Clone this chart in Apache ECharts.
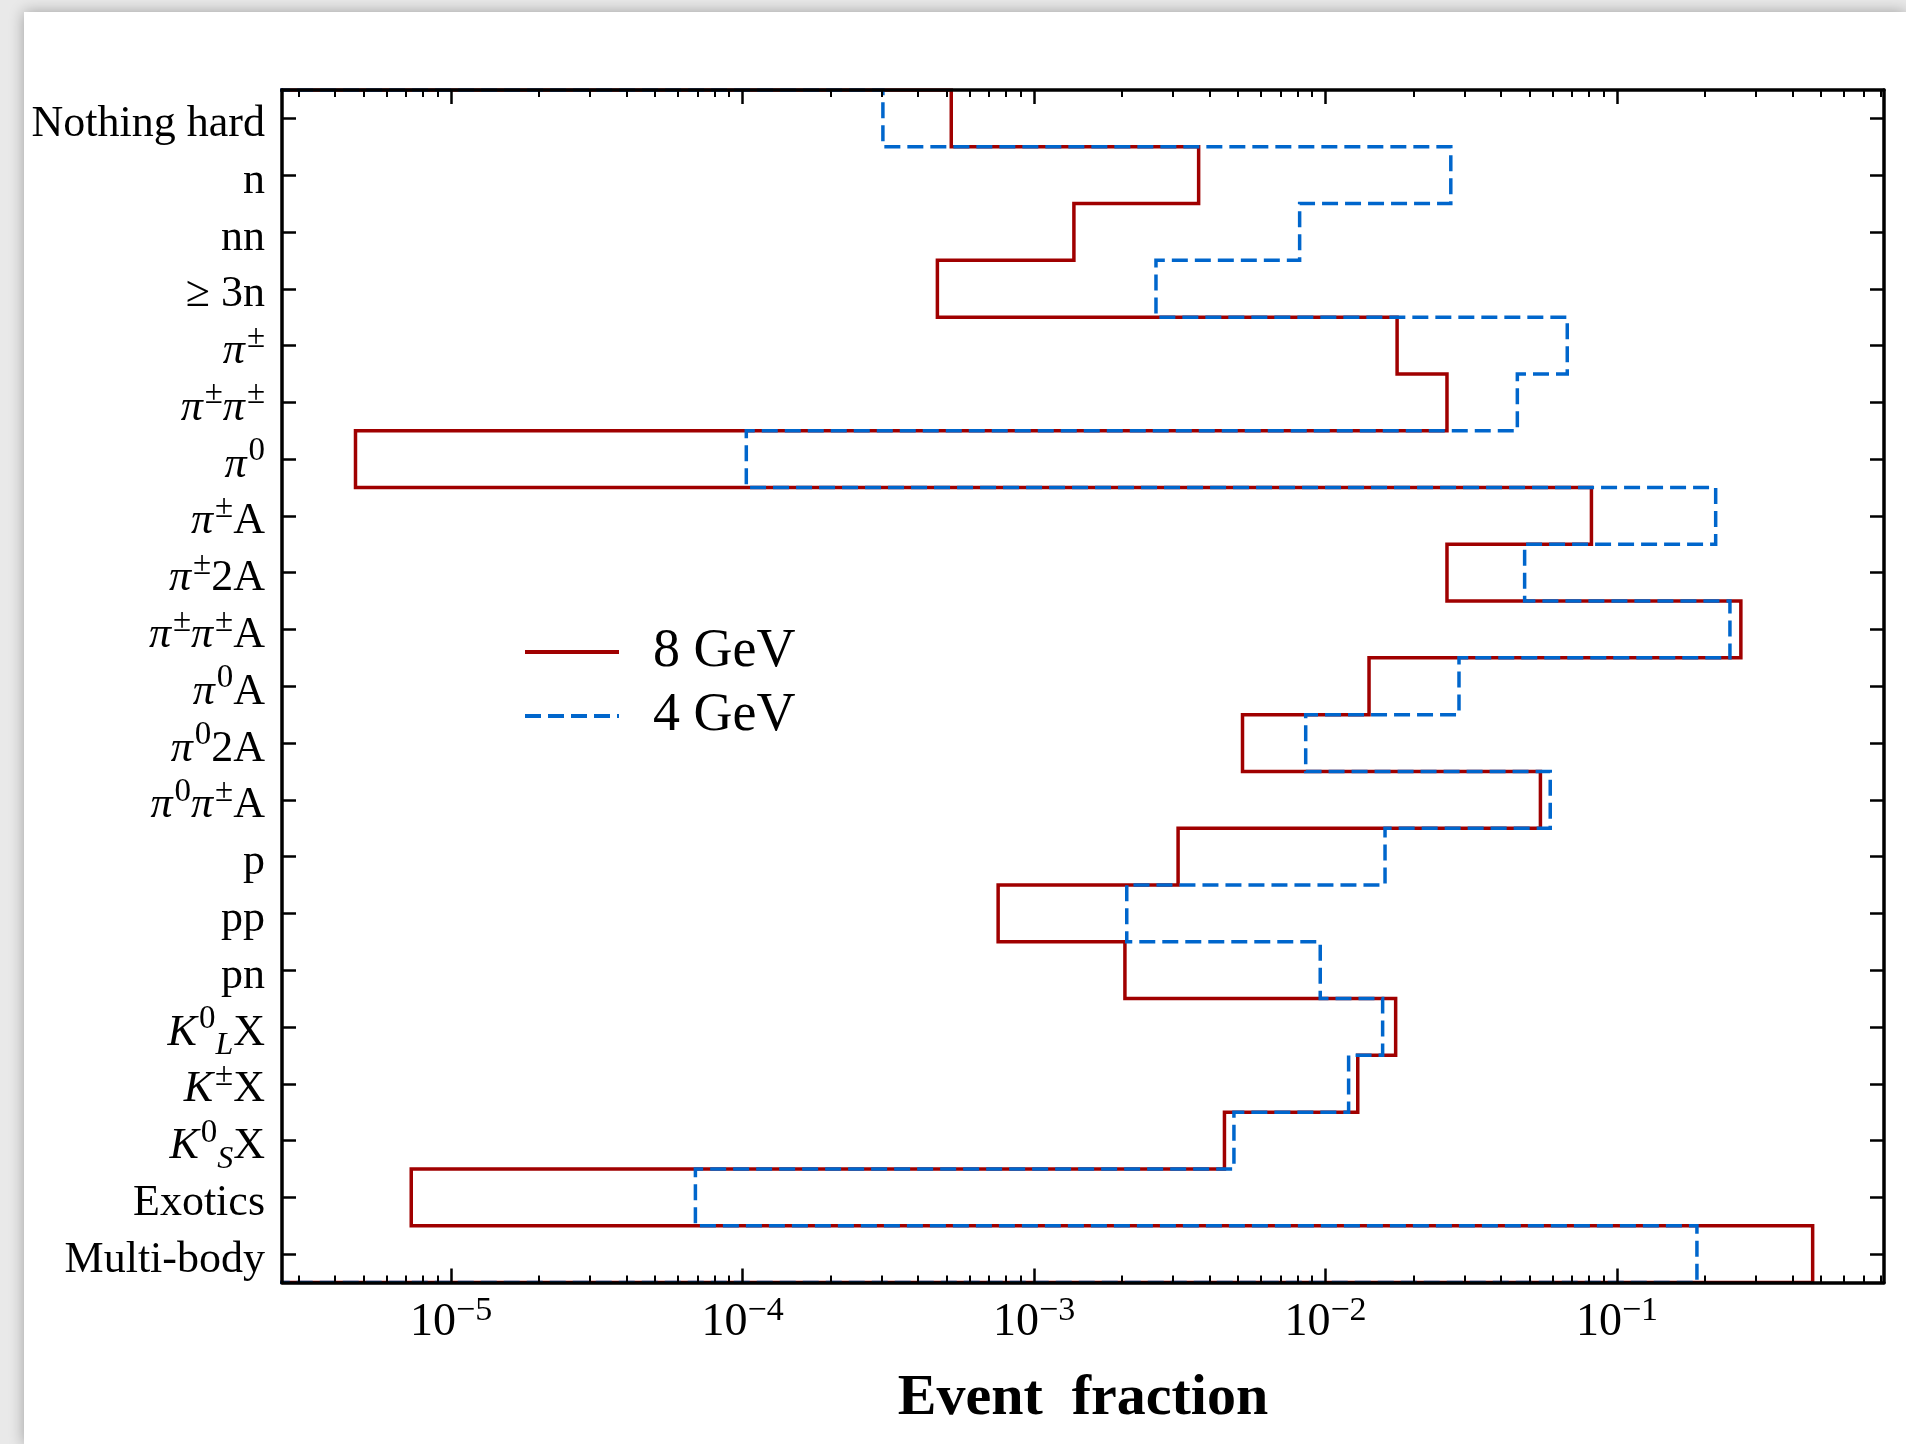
<!DOCTYPE html>
<html>
<head>
<meta charset="utf-8">
<script src="https://cdn.jsdelivr.net/npm/echarts@6/dist/echarts.min.js"></script>
<style>
html,body{margin:0;padding:0;width:1906px;height:1444px;overflow:hidden;background:#e9e9e9;}
#card{position:absolute;left:24px;top:12px;width:1882px;height:1432px;background:#fff;box-shadow:0 0 14px rgba(0,0,0,0.32);}
#chart{position:absolute;left:0;top:0;width:1906px;height:1444px;}
</style>
</head>
<body>
<div id="card"></div>
<div id="chart"></div>
<script>
// ---- data ----
const categories = ['Nothing hard','n','nn','≥ 3n','π^±','π^±π^±','π^0','π^±A','π^±2A','π^±π^±A',
  'π^0A','π^02A','π^0π^±A','p','pp','pn','K^0_LX','K^±X','K^0_SX','Exotics','Multi-body'];
const frac8GeV = [5.2e-4, 3.67e-3, 1.37e-3, 4.66e-4, 1.76e-2, 2.61e-2, 4.7e-6, 8.17e-2, 2.61e-2, 0.266,
  1.41e-2, 5.19e-3, 5.46e-2, 3.12e-3, 7.53e-4, 2.05e-3, 1.74e-2, 1.29e-2, 4.5e-3, 7.3e-6, 0.469];
const frac4GeV = [3.03e-4, 2.69e-2, 8.15e-3, 2.62e-3, 6.75e-2, 4.55e-2, 1.03e-4, 0.218, 4.82e-2, 0.244,
  2.87e-2, 8.55e-3, 5.9e-2, 1.6e-2, 2.08e-3, 9.59e-3, 1.57e-2, 1.2e-2, 4.85e-3, 6.89e-5, 0.188];
const seriesNames = ['8 GeV', '4 GeV'];
const majorTicks = [1e-5, 1e-4, 1e-3, 1e-2, 1e-1];
const minorTicks = [];
for (let k = -6; k <= -1; k++) for (let m = 2; m <= 9; m++) minorTicks.push(+(m + 'e' + k));
const X_MIN = 2.63e-6, X_MAX = 0.824;
const BASE = 1e-9; // histogram baseline (clipped, like 0 on a log axis)

// ---- styling ----
const FONT = 'Liberation Serif';
const RED = '#a00000', BLUE = '#0066cc';

function stepOutline(vals) {
  const pts = [[BASE, -0.5]];
  vals.forEach((v, i) => { pts.push([v, i - 0.5]); pts.push([v, i + 0.5]); });
  pts.push([BASE, vals.length - 0.5]);
  return pts;
}

function toRich(label) {
  let out = '', plain = '';
  const flush = () => { if (plain) { out += '{m|' + plain + '}'; plain = ''; } };
  for (let i = 0; i < label.length; i++) {
    const c = label[i];
    if (c === '^' || c === '_') { flush(); out += '{' + (c === '^' ? 'sup' : 'sub') + '|' + label[i + 1] + '}'; i++; }
    else if (c === 'π' || c === 'K') { flush(); out += '{it|' + c + '}'; }
    else plain += c;
  }
  flush();
  return out;
}

const P = 8;
const richStyles = {
  m:   {fontFamily: FONT, fontSize: 44, lineHeight: 48, verticalAlign: 'top', color: '#000', padding: [P, 0, 0, 0]},
  it:  {fontFamily: FONT, fontSize: 44, lineHeight: 48, verticalAlign: 'top', color: '#000', fontStyle: 'italic', padding: [P, 0, 0, 0]},
  sup: {fontFamily: FONT, fontSize: 33, lineHeight: 33, verticalAlign: 'top', color: '#000', padding: [0, 0, 0, 2]},
  sub: {fontFamily: FONT, fontSize: 32, lineHeight: 32, verticalAlign: 'top', color: '#000', fontStyle: 'italic', padding: [P + 19, 0, 0, 0]}
};
const tickRich = {
  b: {fontFamily: FONT, fontSize: 46, lineHeight: 52, verticalAlign: 'top', color: '#000', padding: [5, 0, 0, 0]},
  s: {fontFamily: FONT, fontSize: 34, lineHeight: 34, verticalAlign: 'top', color: '#000'}
};

const spine = {show: true, onZero: false, lineStyle: {color: '#000', width: 3.5}};
const majorTickStyle = {color: '#000', width: 2.5};
const minorTickStyle = {color: '#000', width: 2};

const xBase = {
  type: 'log', logBase: 10, min: X_MIN, max: X_MAX, z: 10,
  splitLine: {show: false}, minorSplitLine: {show: false},
  axisLine: {show: false, onZero: false}, axisLabel: {show: false}, axisTick: {show: false}
};

const chart = echarts.init(document.getElementById('chart'), null, {renderer: 'canvas'});
chart.setOption({
  animation: false,
  backgroundColor: 'transparent',
  grid: {left: 282, right: 22, top: 90, bottom: 161.5},
  legend: {
    orient: 'vertical', left: 518, top: 620,
    itemWidth: 94, itemHeight: 14, itemGap: 10,
    data: seriesNames,
    itemStyle: {opacity: 0},
    lineStyle: {width: 4},
    textStyle: {fontFamily: FONT, fontSize: 54, lineHeight: 54, color: '#000', padding: [0, 0, 0, 29]}
  },
  xAxis: [
    Object.assign({}, xBase, {
      position: 'bottom',
      axisLine: spine,
      axisTick: {show: true, inside: true, length: 14, lineStyle: majorTickStyle, customValues: majorTicks},
      axisLabel: {
        show: true, customValues: majorTicks, margin: 12,
        formatter: v => '{b|10}{s|−' + Math.round(-Math.log10(v)) + '}',
        rich: tickRich
      },
      name: 'Event  fraction', nameLocation: 'middle', nameGap: 88,
      nameTextStyle: {fontFamily: FONT, fontSize: 58, fontWeight: 'bold', color: '#000'}
    }),
    Object.assign({}, xBase, {
      position: 'bottom',
      axisTick: {show: true, inside: true, length: 7, lineStyle: minorTickStyle, customValues: minorTicks}
    }),
    Object.assign({}, xBase, {
      position: 'top',
      axisLine: spine,
      axisTick: {show: true, inside: true, length: 14, lineStyle: majorTickStyle, customValues: majorTicks}
    }),
    Object.assign({}, xBase, {
      position: 'top',
      axisTick: {show: true, inside: true, length: 7, lineStyle: minorTickStyle, customValues: minorTicks}
    })
  ],
  yAxis: [
    {
      type: 'category', data: categories, inverse: true, position: 'left', z: 10,
      axisLine: spine,
      axisTick: {show: true, inside: true, length: 14, alignWithLabel: true, interval: 0, lineStyle: majorTickStyle},
      axisLabel: {interval: 0, margin: 17, color: '#000', formatter: toRich, rich: richStyles},
      splitLine: {show: false}
    },
    {
      type: 'category', data: categories, inverse: true, position: 'right', z: 10,
      axisLine: spine,
      axisTick: {show: true, inside: true, length: 14, alignWithLabel: true, interval: 0, lineStyle: majorTickStyle},
      axisLabel: {show: false},
      splitLine: {show: false}
    },
    {type: 'value', min: -0.5, max: 20.5, inverse: true, show: false, splitLine: {show: false}}
  ],
  series: [
    {
      name: seriesNames[0], type: 'line', xAxisIndex: 0, yAxisIndex: 2, z: 2,
      data: stepOutline(frac8GeV), symbol: 'none', showSymbol: false, clip: true,
      lineStyle: {color: RED, width: 3.5, join: 'miter', cap: 'butt'},
      itemStyle: {color: RED}, emphasis: {disabled: true}
    },
    {
      name: seriesNames[1], type: 'line', xAxisIndex: 0, yAxisIndex: 2, z: 3,
      data: stepOutline(frac4GeV), symbol: 'none', showSymbol: false, clip: true,
      lineStyle: {color: BLUE, width: 3.5, type: [16, 7], join: 'miter', cap: 'butt'},
      itemStyle: {color: BLUE}, emphasis: {disabled: true}
    }
  ]
});
</script>
</body>
</html>
